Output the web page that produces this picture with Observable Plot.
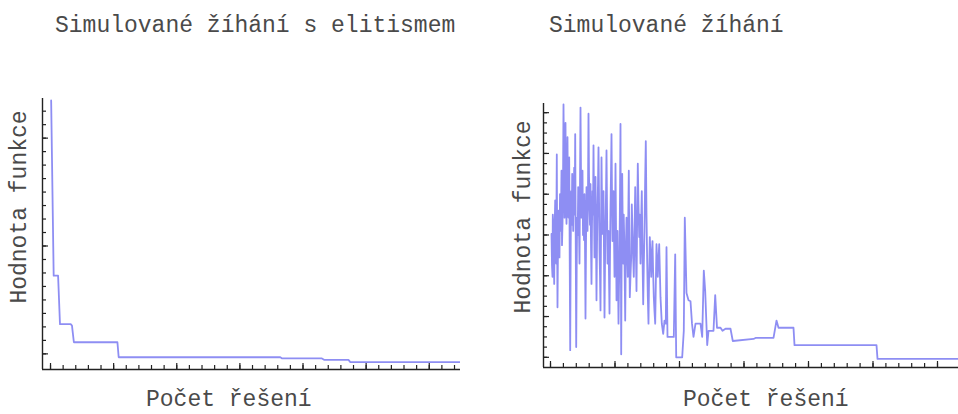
<!DOCTYPE html>
<html>
<head>
<meta charset="utf-8">
<script src="https://cdn.jsdelivr.net/npm/d3@7"></script>
<script src="https://cdn.jsdelivr.net/npm/@observablehq/plot@0.6"></script>
<style>
html, body { margin: 0; padding: 0; background: #fff; overflow: hidden; width: 958px; height: 414px; }
#wrap { position: relative; width: 958px; height: 414px; overflow: hidden; }
.panel { position: absolute; top: 0; }
.t { position: absolute; font-family: "Liberation Mono", "Courier New", monospace; font-size: 23px; color: #4a4a4a; white-space: nowrap; line-height: 1; }
.rot { transform: translate(-50%, -50%) rotate(-90deg); }
</style>
</head>
<body>
<div id="wrap">
  <div id="leftPanel" class="panel" style="left:0"></div>
  <div id="rightPanel" class="panel" style="left:480px"></div>
  <div id="titleL" class="t" style="left:55px; top:15px"></div>
  <div id="titleR" class="t" style="left:549px; top:15px"></div>
  <div id="xlabL" class="t" style="left:146px; top:389px"></div>
  <div id="xlabR" class="t" style="left:683px; top:389px"></div>
  <div id="ylabL" class="t rot" style="left:20px; top:207px"></div>
  <div id="ylabR" class="t rot" style="left:524px; top:217px"></div>
</div>
<script>
// ---- texts ----
const titles = ["Simulované žíhání s elitismem", "Simulované žíhání"];
const xLabel = "Počet řešení";
const yLabel = "Hodnota funkce";

// ---- left panel: simulated annealing with elitism ----
const elitX = [1, 5, 12, 15, 32, 34, 37, 106, 108, 364, 367, 430, 434, 472, 475, 648];
const elitY = [198, 68, 68, 32, 32, 31, 18.6, 18.6, 7.5, 7.5, 6.6, 6.6, 5.5, 5.5, 3.9, 3.9];

// ---- right panel: simulated annealing ----
const saX = [
  1.0, 1.5, 2.0, 2.3, 2.7, 3.2, 3.7, 4.2, 4.7, 5.2, 5.7, 6.0, 6.3, 6.6, 7.0, 7.5, 8.0, 8.5, 9.0, 9.5,
  10.0, 10.5, 11.0, 11.5, 12.0, 12.5, 13.0, 13.5, 14.0, 14.5, 15.0, 15.5, 16.0, 16.5, 17.0, 17.5, 18.0, 18.4, 18.7, 19.2,
  19.7, 20.2, 20.7, 21.2, 21.7, 22.2, 22.7, 23.2, 23.7, 24.2, 24.7, 25.2, 25.7, 26.2, 26.7, 27.2, 27.7, 28.3, 29.0, 29.5,
  30.0, 30.5, 31.0, 31.5, 32.0, 32.5, 33.0, 33.5, 34.0, 34.5, 35.0, 35.5, 36.0, 36.5, 37.0, 37.5, 38.0, 38.5, 39.0, 39.5,
  40.0, 40.5, 41.0, 41.5, 42.0, 42.5, 43.0, 43.5, 44.0, 44.5, 45.0, 45.5, 46.0, 46.5, 47.0, 47.5, 48.0, 48.5, 49.0, 49.5,
  50.0, 50.5, 51.0, 51.5, 52.0, 52.5, 53.0, 53.5, 54.0, 54.5, 55.0, 55.5, 56.0, 56.5, 57.0, 57.5, 58.0, 58.5, 59.0, 59.5,
  60.0, 60.5, 61.0, 61.5, 62.0, 62.5, 63.0, 63.5, 64.0, 64.5, 65.0, 65.5, 66.0, 66.5, 67.0, 67.5, 68.0, 68.5, 69.0, 69.5,
  70.0, 70.7, 71.2, 71.7, 72.2, 72.7, 73.2, 73.7, 74.2, 74.7, 75.3, 76.0, 76.6, 77.3, 77.8, 78.3, 78.8, 79.3, 80.0, 80.7,
  81.3, 82.0, 82.6, 83.3, 84.0, 84.7, 85.3, 86.0, 86.6, 87.3, 88.0, 88.7, 89.3, 90.0, 90.6, 91.3, 92.0, 92.7, 93.3, 94.0,
  94.6, 95.3, 96.0, 96.7, 97.3, 98.0, 98.6, 99.3, 100.0, 100.7, 101.3, 102.0, 102.6, 103.3, 104.0, 104.7, 105.3, 106.0,
  107.3, 108.7, 110.0, 111.3, 112.7, 114.0, 115.3, 116.0, 117.0, 123.3, 124.7, 125.7, 131.7, 133.3, 134.3,
  136, 138, 140, 141.5, 143, 145, 150, 151.7, 153.3, 154.7, 156.7, 158, 163, 164.7, 166.5, 170, 172, 175, 180, 182.3,
  203, 205, 223, 226, 228, 243, 244, 326, 327, 415];
const saY = [
  131, 100, 89, 150, 141, 110, 82, 140, 164, 120, 102, 160, 209, 130, 59, 120, 154, 130, 108, 170,
  134, 150, 193, 120, 141, 180, 258, 200, 147, 190, 240, 160, 141, 175, 226, 150, 147, 185, 206, 110,
  17, 120, 173, 140, 190, 160, 134, 170, 196, 150, 229, 130, 20, 100, 147, 130, 177, 150, 102, 180,
  255, 190, 147, 165, 193, 130, 151, 125, 170, 120, 48, 120, 177, 150, 134, 175, 249, 190, 157, 140,
  180, 120, 82, 140, 173, 150, 218, 160, 108, 150, 187, 130, 66, 120, 157, 180, 216, 170, 115, 90,
  56, 130, 206, 160, 131, 150, 173, 110, 49, 100, 141, 170, 213, 160, 102, 120, 134, 90, 53, 110,
  157, 190, 229, 170, 124, 150, 173, 130, 89, 140, 200, 140, 66, 100, 134, 90, 43, 80, 108, 170,
  239, 13, 120, 190, 140, 102, 150, 128, 90, 46, 110, 147, 120, 89, 150, 193, 120, 69, 90, 108,
  160, 134, 110, 89, 130, 177, 120, 75, 140, 200, 160, 128, 150, 102, 140, 173, 110, 62, 100, 134,
  180, 222, 150, 102, 70, 43, 90, 128, 110, 89, 110, 124, 95, 69, 55, 43, 80, 121,
  89, 121, 69, 43, 33, 46, 43, 118, 30, 30, 111, 10, 10, 36, 147,
  73, 66, 65, 43, 30, 43, 43, 30, 95, 75, 22, 36, 36, 71, 39, 39, 36, 38, 38, 26,
  28, 29, 29, 46, 39, 39, 22, 22, 8.5, 8.5];

// ---- tick values (no labels in the original) ----
const leftXMinor = d3.range(0, 641, 20);
const leftXMajor = d3.range(0, 601, 100);
const leftYMinor = d3.range(10, 191, 10);
const leftYMajor = [10, 90, 170];
const rightXMinor = d3.range(0, 31).map(i => i * 12.9);
const rightXMajor = d3.range(0, 7).map(i => i * 64.5);
const rightYMinor = d3.range(10, 251, 10);
const rightYMajor = d3.range(10, 251, 40);

const elit = elitX.map((x, i) => ({x, y: elitY[i]}));
const sa = saX.map((x, i) => ({x, y: saY[i]}));

const lineStyle = {stroke: "#6262ee", strokeOpacity: 0.72, strokeWidth: 1.8};
const axisColor = "#222";

function axes(xMinor, xMajor, yMinor, yMajor) {
  const common = {tickFormat: () => "", label: null, stroke: axisColor, strokeWidth: 1.2};
  return [
    Plot.axisX(xMinor, {...common, anchor: "bottom", tickSize: 4, dy: -4}),
    Plot.axisX(xMajor, {...common, anchor: "bottom", tickSize: 6, dy: -6}),
    Plot.axisY(yMinor, {...common, anchor: "left", tickSize: 4, dx: 4}),
    Plot.axisY(yMajor, {...common, anchor: "left", tickSize: 6, dx: 6})
  ];
}

const leftDomX = [-12.7, 649.5], leftDomY = [-1.6, 199.4];
const left = Plot.plot({
  width: 480, height: 414,
  marginLeft: 42, marginRight: 20, marginTop: 98, marginBottom: 45,
  x: {domain: leftDomX},
  y: {domain: leftDomY},
  marks: [
    Plot.line(elit, {x: "x", y: "y", ...lineStyle, clip: true}),
    Plot.ruleX([leftDomX[0]], {stroke: axisColor, strokeWidth: 1.4}),
    Plot.ruleY([leftDomY[0]], {stroke: axisColor, strokeWidth: 1.4}),
    ...axes(leftXMinor, leftXMajor, leftYMinor, leftYMajor)
  ]
});

const rightDomX = [-7, 408], rightDomY = [0, 259];
const right = Plot.plot({
  width: 478, height: 414,
  marginLeft: 63, marginRight: 0, marginTop: 103, marginBottom: 47,
  x: {domain: rightDomX},
  y: {domain: rightDomY},
  marks: [
    Plot.line(sa, {x: "x", y: "y", ...lineStyle, clip: true}),
    Plot.ruleX([rightDomX[0]], {stroke: axisColor, strokeWidth: 1.4}),
    Plot.ruleY([rightDomY[0]], {stroke: axisColor, strokeWidth: 1.4}),
    ...axes(rightXMinor, rightXMajor, rightYMinor, rightYMajor)
  ]
});

document.getElementById("leftPanel").append(left);
document.getElementById("rightPanel").append(right);
document.getElementById("titleL").textContent = titles[0];
document.getElementById("titleR").textContent = titles[1];
document.getElementById("xlabL").textContent = xLabel;
document.getElementById("xlabR").textContent = xLabel;
document.getElementById("ylabL").textContent = yLabel;
document.getElementById("ylabR").textContent = yLabel;
</script>
</body>
</html>
